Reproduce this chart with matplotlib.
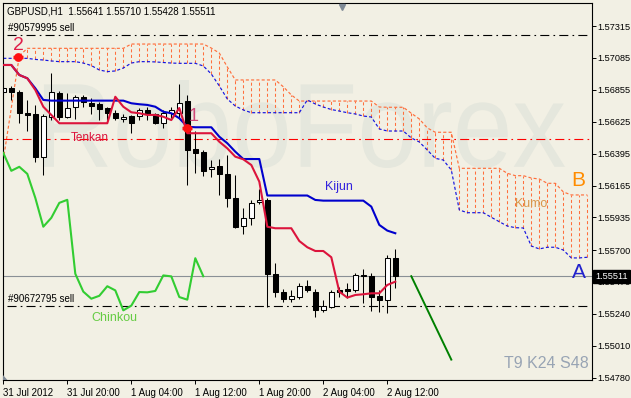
import matplotlib
matplotlib.use('Agg')
import matplotlib.pyplot as plt
import numpy as np
from matplotlib.textpath import TextPath
from matplotlib.patches import PathPatch, Polygon
from matplotlib.font_manager import FontProperties
from matplotlib.transforms import Affine2D, blended_transform_factory

# ---------------- data ----------------
opens = [1.56840, 1.56868, 1.56840, 1.56688, 1.56681, 1.56372, 1.56660, 1.56832, 1.56660, 1.56732,
         1.56804, 1.56760, 1.56753, 1.56724, 1.56688, 1.56645, 1.56667, 1.56667, 1.56710, 1.56681,
         1.56616, 1.56688, 1.56688, 1.56775, 1.56429, 1.56408, 1.56285, 1.56307, 1.56249, 1.56076,
         1.55875, 1.55932, 1.56048, 1.56062, 1.55529, 1.55400, 1.55349, 1.55364, 1.55443, 1.55396,
         1.55270, 1.55292, 1.55409, 1.55419, 1.55414, 1.55522, 1.55515, 1.55366, 1.55342, 1.55641]
highs = [1.56883, 1.56883, 1.56854, 1.56782, 1.56746, 1.56681, 1.56976, 1.56847, 1.56832, 1.56818,
         1.56818, 1.56796, 1.56768, 1.56732, 1.56710, 1.56681, 1.56674, 1.56724, 1.56732, 1.56688,
         1.56710, 1.56732, 1.56897, 1.56818, 1.56559, 1.56422, 1.56350, 1.56357, 1.56386, 1.56242,
         1.56004, 1.56062, 1.56141, 1.56076, 1.55608, 1.55421, 1.55414, 1.55464, 1.55486, 1.55421,
         1.55342, 1.55414, 1.55436, 1.55464, 1.55536, 1.55565, 1.55536, 1.55409, 1.55666, 1.55710]
lows = [1.56825, 1.56782, 1.56616, 1.56559, 1.56336, 1.56242, 1.56638, 1.56638, 1.56652, 1.56645,
        1.56732, 1.56681, 1.56638, 1.56638, 1.56638, 1.56624, 1.56544, 1.56638, 1.56638, 1.56609,
        1.56580, 1.56652, 1.56652, 1.56170, 1.56256, 1.56235, 1.56228, 1.56098, 1.56012, 1.55860,
        1.55817, 1.55882, 1.56033, 1.55292, 1.55364, 1.55328, 1.55328, 1.55346, 1.55400, 1.55220,
        1.55256, 1.55281, 1.55364, 1.55356, 1.55400, 1.55320, 1.55263, 1.55256, 1.55248, 1.55428]
closes = [1.56868, 1.56840, 1.56688, 1.56674, 1.56372, 1.56667, 1.56840, 1.56660, 1.56724, 1.56804,
          1.56768, 1.56739, 1.56717, 1.56688, 1.56652, 1.56660, 1.56616, 1.56710, 1.56681, 1.56616,
          1.56688, 1.56710, 1.56760, 1.56422, 1.56400, 1.56271, 1.56300, 1.56249, 1.56076, 1.55868,
          1.55932, 1.56040, 1.56062, 1.55529, 1.55400, 1.55349, 1.55370, 1.55439, 1.55409, 1.55265,
          1.55299, 1.55397, 1.55395, 1.55405, 1.55517, 1.55510, 1.55361, 1.55342, 1.55641, 1.55511]

tenkan = [1.57034, 1.57034, 1.56962, 1.56938, 1.56854, 1.56733, 1.56674, 1.56614, 1.56614, 1.56614,
          1.56614, 1.56614, 1.56614, 1.56614, 1.56805, 1.56733, 1.56693, 1.56686, 1.56674, 1.56674,
          1.56661, 1.56637, 1.56724, 1.56542, 1.56542, 1.56542, 1.56542, 1.56481, 1.56433, 1.56373,
          1.56354, 1.56313, 1.56193, 1.55868, 1.55857, 1.55857, 1.55857, 1.55765, 1.55720, 1.55693,
          1.55693, 1.55648, 1.55400, 1.55357, 1.55376, 1.55381, 1.55388, 1.55388, 1.55448, 1.55472]
kijun = [1.57034, 1.57034, 1.56962, 1.56938, 1.56866, 1.56782, 1.56777, 1.56777, 1.56777, 1.56777,
         1.56777, 1.56777, 1.56777, 1.56777, 1.56777, 1.56777, 1.56758, 1.56751, 1.56746, 1.56733,
         1.56697, 1.56686, 1.56650, 1.56589, 1.56585, 1.56585, 1.56585, 1.56517, 1.56470, 1.56409,
         1.56356, 1.56356, 1.56356, 1.56093, 1.56093, 1.56093, 1.56093, 1.56093, 1.56093, 1.56061,
         1.56056, 1.56056, 1.56056, 1.56056, 1.56056, 1.56056, 1.56013, 1.55881, 1.55840, 1.55821]
senkou_a = [1.57082, 1.57082, 1.57082, 1.57082, 1.57074, 1.57070, 1.57063, 1.57058, 1.57058, 1.57058,
            1.57048, 1.57030, 1.56998, 1.56986, 1.56991, 1.57012, 1.57048, 1.57058, 1.57058, 1.57056,
            1.57052, 1.57048, 1.57046, 1.57046, 1.57046, 1.57027, 1.56969, 1.56883, 1.56789, 1.56738,
            1.56710, 1.56690, 1.56690, 1.56690, 1.56690, 1.56690, 1.56690, 1.56690, 1.56782, 1.56753,
            1.56731, 1.56713, 1.56702, 1.56690, 1.56681, 1.56666, 1.56659, 1.56573, 1.56558, 1.56558,
            1.56558, 1.56508, 1.56479, 1.56421, 1.56361, 1.56349, 1.56277, 1.55989, 1.55969, 1.55969,
            1.55969, 1.55936, 1.55904, 1.55873, 1.55861, 1.55859, 1.55729, 1.55708, 1.55720, 1.55720,
            1.55700, 1.55643, 1.55643, 1.55648]
senkou_b = [1.56349, 1.56724, 1.57099, 1.57154, 1.57154, 1.57154, 1.57154, 1.57154, 1.57154, 1.57154,
            1.57154, 1.57154, 1.57154, 1.57154, 1.57154, 1.57154, 1.57185, 1.57185, 1.57185, 1.57185,
            1.57185, 1.57185, 1.57185, 1.57185, 1.57185, 1.57185, 1.57156, 1.57120, 1.57020, 1.56926,
            1.56926, 1.56926, 1.56926, 1.56926, 1.56926, 1.56877, 1.56818, 1.56774, 1.56774, 1.56774,
            1.56774, 1.56774, 1.56774, 1.56774, 1.56774, 1.56774, 1.56774, 1.56731, 1.56729, 1.56729,
            1.56729, 1.56686, 1.56645, 1.56580, 1.56549, 1.56549, 1.56549, 1.56289, 1.56289, 1.56289,
            1.56289, 1.56289, 1.56289, 1.56253, 1.56236, 1.56236, 1.56219, 1.56212, 1.56181, 1.56181,
            1.56119, 1.56097, 1.56097, 1.56097]
chinkou_shift = 24

forecast_idx = [51, 56]
forecast_price = [1.55511, 1.54910]

order_levels = [1.57250, 1.55297]
order_labels = ["#90579995 sell", "#90672795 sell"]
stop_level = 1.56499
last_price = 1.55511

arrow_idx = [1.9, 23.0]
arrow_price = [1.57092, 1.56580]

xtick_pos = [0, 8, 16, 24, 32, 40, 48]
xtick_labels = ["31 Jul 2012", "31 Jul 20:00", "1 Aug 04:00", "1 Aug 12:00",
                "1 Aug 20:00", "2 Aug 04:00", "2 Aug 12:00"]
ytick_vals = [1.57315, 1.57085, 1.56855, 1.56625, 1.56395, 1.56165, 1.55935,
              1.55700, 1.55470, 1.55240, 1.55010, 1.54780]
ytick_labels = ["%.5f" % v for v in ytick_vals]

header = "GBPUSD,H1  1.55641 1.55710 1.55428 1.55511"

# ---------------- style ----------------
plt.rcParams['font.family'] = ['Liberation Sans', 'DejaVu Sans']
plt.rcParams['lines.scale_dashes'] = False

BG = '#F2F0E4'
WM = '#E5E7DD'
ORANGE = '#FF6F3C'
SBLUE = '#1414E0'
TENKAN_C = '#DC143C'
KIJUN_C = '#0000CD'
CHINKOU_C = '#32CD32'

fig = plt.figure(figsize=(6.31, 3.98), dpi=100)
fig.patch.set_facecolor(BG)
ax = fig.add_axes([2.7 / 631, 1 - 380 / 398, 589 / 631, 377.3 / 398])
ax.set_facecolor(BG)
ax.set_xlim(-0.075, 73.55)
ax.set_ylim(1.54763, 1.57483)

# watermark
tp = TextPath((0, 0), "RoboForex", size=1, prop=FontProperties(family='Liberation Sans'))
ext = tp.get_extents()
x0, x1, y0, y1 = 0.0701, 0.9547, 0.5619, 0.7951
tr = Affine2D().translate(-ext.x0, -ext.y0).scale((x1 - x0) / ext.width, (y1 - y0) / ext.height).translate(x0, y0)
ax.add_patch(PathPatch(tr.transform_path(tp), transform=ax.transAxes, facecolor=WM,
                       edgecolor='none', zorder=0.2))

n = len(closes)
idx = np.arange(n)
o = np.array(opens); h = np.array(highs); l = np.array(lows); c = np.array(closes)

# kumo
sa = np.array(senkou_a); sb = np.array(senkou_b); k = np.arange(len(sa))
mask = sb > sa
ax.vlines(k[mask], sa[mask], sb[mask], colors=ORANGE, linestyles=[(0, (2.2, 1.8))], lw=0.75, zorder=1)
ax.plot(k, sb, color=ORANGE, lw=0.85, ls=(0, (2.2, 1.6)), zorder=1.1)
ax.plot(k, sa, color=SBLUE, lw=0.85, ls=(0, (2.2, 1.6)), zorder=1.1)

# horizontal levels
ax.hlines(order_levels, 0.5, 73.3, colors='black', lw=0.8, linestyles=[(0, (6.5, 3, 1.2, 3))], zorder=1.5)
ax.hlines([stop_level], 0.0, 73.3, colors='#FF0000', lw=0.8, linestyles=[(0, (6.5, 3, 1.2, 3))], zorder=1.5)
ax.axhline(last_price, color='#8A9096', lw=0.8, zorder=1.5)

# candles
ax.vlines(idx, l, h, colors='black', lw=0.75, zorder=2)
body_bot = np.minimum(o, c)
body_h = np.maximum(np.abs(c - o), 0.00003)
fills = ['white' if cc >= oo else 'black' for oo, cc in zip(o, c)]
ax.bar(idx, body_h, bottom=body_bot, width=0.6, color=fills, edgecolor='black', linewidth=0.75, zorder=2.1)

# indicator lines
ax.plot(idx[:n - chinkou_shift], c[chinkou_shift:], color=CHINKOU_C, lw=1.5, zorder=3)
ax.plot(idx, kijun, color=KIJUN_C, lw=1.5, zorder=3.1)
ax.plot(idx, tenkan, color=TENKAN_C, lw=1.5, zorder=3.2)
ax.plot(forecast_idx, forecast_price, color='#008000', lw=1.4, zorder=3)

# order arrows
ax.scatter(arrow_idx, arrow_price, s=40, color='#FF1010', marker='o', zorder=4, linewidths=0)
ax.scatter(arrow_idx, arrow_price, s=60, color='#FF1010', marker='_', zorder=4, linewidths=2.5)

# texts
ax.text(1.84, 1.57178, "2", color='#E0204A', fontsize=14, ha='center', va='center', zorder=5)
ax.text(23.8, 1.56663, "1", color='#D04878', fontsize=13, ha='center', va='center', zorder=5)
ax.text(10.84, 1.56511, "Tenkan", color=TENKAN_C, fontsize=8.5, ha='center', va='center', zorder=5)
ax.text(41.96, 1.56155, "Kijun", color='#3322DD', fontsize=9, ha='center', va='center', zorder=5)
ax.text(13.9, 1.55207, "Chinkou", color='#66CC44', fontsize=9, ha='center', va='center', zorder=5)
ax.text(65.96, 1.56032, "Kumo", color='#D9964A', fontsize=9, ha='center', va='center', zorder=5)
ax.text(71.9, 1.56201, "B", color='#FF8C00', fontsize=15, ha='center', va='center', zorder=5)
ax.text(71.9, 1.55535, "A", color='#2222CC', fontsize=15, ha='center', va='center', zorder=5)
ax.text(67.9, 1.54879, "T9 K24 S48", color='#98A4B4', fontsize=11.5, ha='center', va='center', zorder=5)
ax.text(4.3 / 589, 1 - 8.3 / 377.3, header, transform=ax.transAxes, fontsize=7, ha='left', va='center', zorder=5)
for lv, lb in zip(order_levels, order_labels):
    ax.annotate(lb, xy=(0.55, lv), xytext=(0, 1.2), textcoords='offset points',
                fontsize=7, ha='left', va='bottom', zorder=5)

# current price box
trans = blended_transform_factory(ax.transAxes, ax.transData)
ax.text(1.0 + 3.5 / 589, last_price, "%.5f" % last_price, transform=trans, ha='left', va='center',
        color='white', fontsize=6.6, clip_on=False, zorder=10,
        bbox=dict(boxstyle='square,pad=0.2', fc='black', ec='black'))

# chart shift markers
ax.plot([0.576], [0.988], marker='v', color='#7F8A96', ms=5, transform=ax.transAxes, clip_on=False, zorder=6)
ax.add_patch(Polygon([[0, 0], [0.008, 0], [0, 0.014]], closed=True, transform=ax.transAxes,
                     fc='#7F8A96', ec='none', zorder=6))

# axes
for s in ax.spines.values():
    s.set_color('black'); s.set_linewidth(0.8)
ax.yaxis.tick_right()
ax.set_yticks(ytick_vals)
ax.set_yticklabels(ytick_labels)
ax.set_xticks(xtick_pos)
ax.set_xticklabels(xtick_labels)
for lbl in ax.get_xticklabels():
    lbl.set_ha('left')
ax.tick_params(axis='y', direction='out', length=3, width=0.7, pad=1.2, labelsize=6.6)
ax.tick_params(axis='x', direction='out', length=3, width=0.7, pad=3, labelsize=7)

fig.savefig('out.png', dpi=100, facecolor=BG)
